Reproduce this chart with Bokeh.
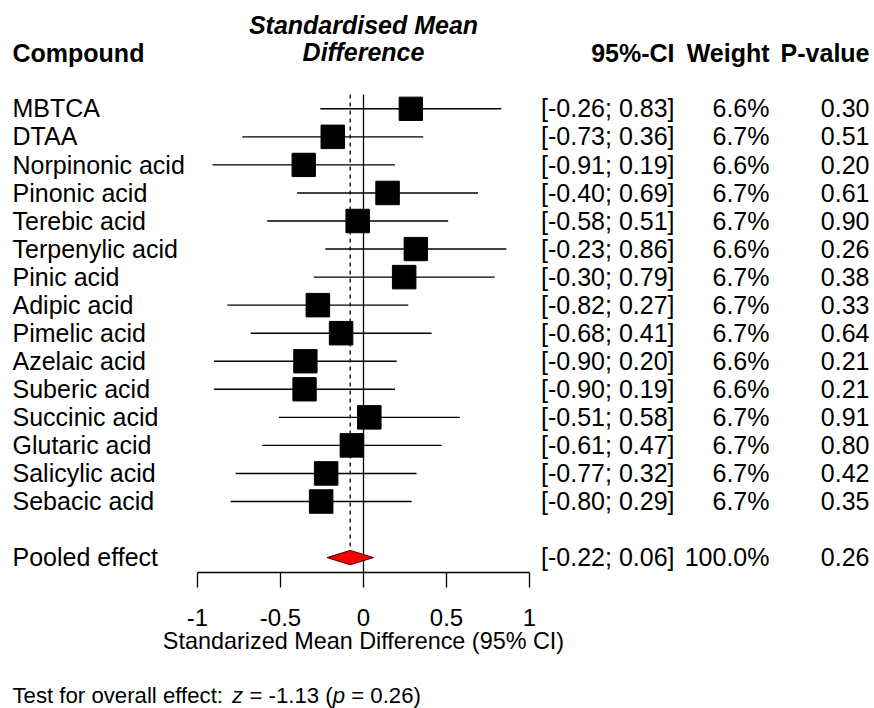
from bokeh.plotting import figure
from bokeh.models import Range1d, ColumnDataSource
from bokeh.core.properties import value
from bokeh.embed import file_html
from bokeh.resources import INLINE

# ---------------- data ----------------
compounds = ["MBTCA", "DTAA", "Norpinonic acid", "Pinonic acid", "Terebic acid",
             "Terpenylic acid", "Pinic acid", "Adipic acid", "Pimelic acid", "Azelaic acid",
             "Suberic acid", "Succinic acid", "Glutaric acid", "Salicylic acid", "Sebacic acid"]
smd = [0.285, -0.185, -0.36, 0.145, -0.035, 0.315, 0.245, -0.275, -0.135, -0.35,
       -0.355, 0.035, -0.07, -0.225, -0.255]
ci_low = [-0.26, -0.73, -0.91, -0.40, -0.58, -0.23, -0.30, -0.82, -0.68, -0.90,
          -0.90, -0.51, -0.61, -0.77, -0.80]
ci_high = [0.83, 0.36, 0.19, 0.69, 0.51, 0.86, 0.79, 0.27, 0.41, 0.20,
           0.19, 0.58, 0.47, 0.32, 0.29]
weights = [6.6, 6.7, 6.6, 6.7, 6.7, 6.6, 6.7, 6.7, 6.7, 6.6, 6.6, 6.7, 6.7, 6.7, 6.7]
p_values = [0.30, 0.51, 0.20, 0.61, 0.90, 0.26, 0.38, 0.33, 0.64, 0.21, 0.21, 0.91, 0.80, 0.42, 0.35]

pooled_label = "Pooled effect"
pooled_smd = -0.08
pooled_low = -0.22
pooled_high = 0.06
pooled_weight = 100.0
pooled_p = 0.26

axis_ticks = [-1, -0.5, 0, 0.5, 1]
axis_tick_labels = ["-1", "-0.5", "0", "0.5", "1"]
x_label = "Standarized Mean Difference (95% CI)"
test_parts = ["Test for overall effect: ", "z", " = -1.13 (", "p", " = 0.26)"]

# ---------------- layout helpers ----------------
W, H = 874, 708
X0_PX, XU_PX = 363.0, 166.0      # pixel of x=0, pixels per unit
Y0_PX, ROW_PX = 108.3, 28.05     # pixel of first row centre, pixels per row
SHIFT_EM = 0.4                   # empirical correction of rendered baseline (em)


def px_x(px):
    return (px - X0_PX) / XU_PX


def px_y(py):
    return (py - Y0_PX) / ROW_PX


def tpx_y(py, fs=25.0):
    # y for a text whose baseline should land on pixel py
    return px_y(py - SHIFT_EM * fs)


FONT = value("Liberation Sans")
BASE_OFF = (9.6 - SHIFT_EM * 25.0) / ROW_PX   # baseline below row centre
n = len(compounds)
rows = list(range(n))
pooled_row = n + 1

p = figure(width=W, height=H, x_range=Range1d(px_x(0), px_x(W)),
           y_range=Range1d(px_y(H), px_y(0)),
           output_backend="svg", toolbar_location=None, min_border=0,
           x_axis_location=None, y_axis_location=None,
           outline_line_color=None, background_fill_color="white",
           border_fill_color="white")
p.grid.visible = False


def txt(x, y, t, size="25px", align="left", style="normal"):
    p.text(x=x, y=y, text=t, text_font=FONT, text_font_size=size,
           text_align=align, text_baseline="alphabetic", text_color="black",
           text_font_style=style)


# reference lines
line_top = px_y(94)
axis_y = px_y(572)
tick_bottom = px_y(587)
diamond_half = 7.2 / ROW_PX
p.segment(x0=[0], y0=[line_top], x1=[0], y1=[axis_y], line_color="black", line_width=1.3)
p.segment(x0=[pooled_smd], y0=[line_top], x1=[pooled_smd], y1=[pooled_row - diamond_half],
          line_color="black", line_width=1.3, line_dash="4 4")

# CI lines and squares
src = ColumnDataSource(dict(y=rows, est=smd, lo=ci_low, hi=ci_high,
                            sz=[23.5 * (w / max(weights)) ** 0.5 for w in weights]))
p.segment(x0="lo", y0="y", x1="hi", y1="y", source=src, line_color="black", line_width=1.4)
p.rect(x="est", y="y", width="sz", height="sz", width_units="screen", height_units="screen",
       source=src, fill_color="black", line_color="black")

# pooled diamond
p.patch(x=[pooled_low, pooled_smd, pooled_high, pooled_smd],
        y=[pooled_row, pooled_row - diamond_half, pooled_row, pooled_row + diamond_half],
        fill_color="#ff0000", line_color="#3a0000", line_width=1)

# x axis
p.segment(x0=[axis_ticks[0]], y0=[axis_y], x1=[axis_ticks[-1]], y1=[axis_y],
          line_color="black", line_width=1.3)
p.segment(x0=axis_ticks, y0=[axis_y] * len(axis_ticks), x1=axis_ticks,
          y1=[tick_bottom] * len(axis_ticks), line_color="black", line_width=1.3)
txt(axis_ticks, [tpx_y(627, 24)] * len(axis_ticks), axis_tick_labels, size="24px", align="center")
txt([0], [tpx_y(650, 23.4)], [x_label], size="23.4px", align="center")

# headers
hdr_y = tpx_y(62)
txt([px_x(12)], [hdr_y], ["Compound"], style="bold")
txt([0], [tpx_y(34)], ["Standardised Mean"], style="bold italic", align="center")
txt([0], [tpx_y(61.5)], ["Difference"], style="bold italic", align="center")
CI_R, W_R, P_R = px_x(674), px_x(769), px_x(869)
txt([CI_R], [hdr_y], ["95%-CI"], style="bold", align="right")
txt([W_R], [hdr_y], ["Weight"], style="bold", align="right")
txt([P_R], [hdr_y], ["P-value"], style="bold", align="right")

# row texts
ys = [r + BASE_OFF for r in rows]
txt([px_x(12)] * n, ys, compounds)
txt([CI_R] * n, ys, [f"[{a:.2f}; {b:.2f}]" for a, b in zip(ci_low, ci_high)], align="right")
txt([W_R] * n, ys, [f"{w:.1f}%" for w in weights], align="right")
txt([P_R] * n, ys, [f"{v:.2f}" for v in p_values], align="right")

py = pooled_row + BASE_OFF
txt([px_x(12)], [py], [pooled_label])
txt([CI_R], [py], [f"[{pooled_low:.2f}; {pooled_high:.2f}]"], align="right")
txt([W_R], [py], [f"{pooled_weight:.1f}%"], align="right")
txt([P_R], [py], [f"{pooled_p:.2f}"], align="right")

# overall effect test line (mixed italic), widths from Arial metrics (em)
CHAR_EM = {" ": 0.278, "=": 0.584, "-": 0.333, ".": 0.278, "(": 0.333, ")": 0.333,
           "z": 0.500, "p": 0.556, "1": 0.556, "3": 0.556, "0": 0.556, "2": 0.556, "6": 0.556}
PREFIX_EM = 9.893   # "Test for overall effect: " including trailing space
fs = 22.2
xpx = 12.0
for part in test_parts:
    if part == test_parts[0]:
        shown, lead, width = part.rstrip(), 0.0, PREFIX_EM
    else:
        shown = part.strip()
        lead = sum(CHAR_EM[c] for c in part[:len(part) - len(part.lstrip())])
        width = sum(CHAR_EM[c] for c in part)
    txt([px_x(xpx + lead * fs)], [tpx_y(704, fs)], [shown], size=f"{fs}px",
        style="italic" if part in ("z", "p") else "normal")
    xpx += width * fs

open("out.html", "w").write(file_html(p, INLINE))
